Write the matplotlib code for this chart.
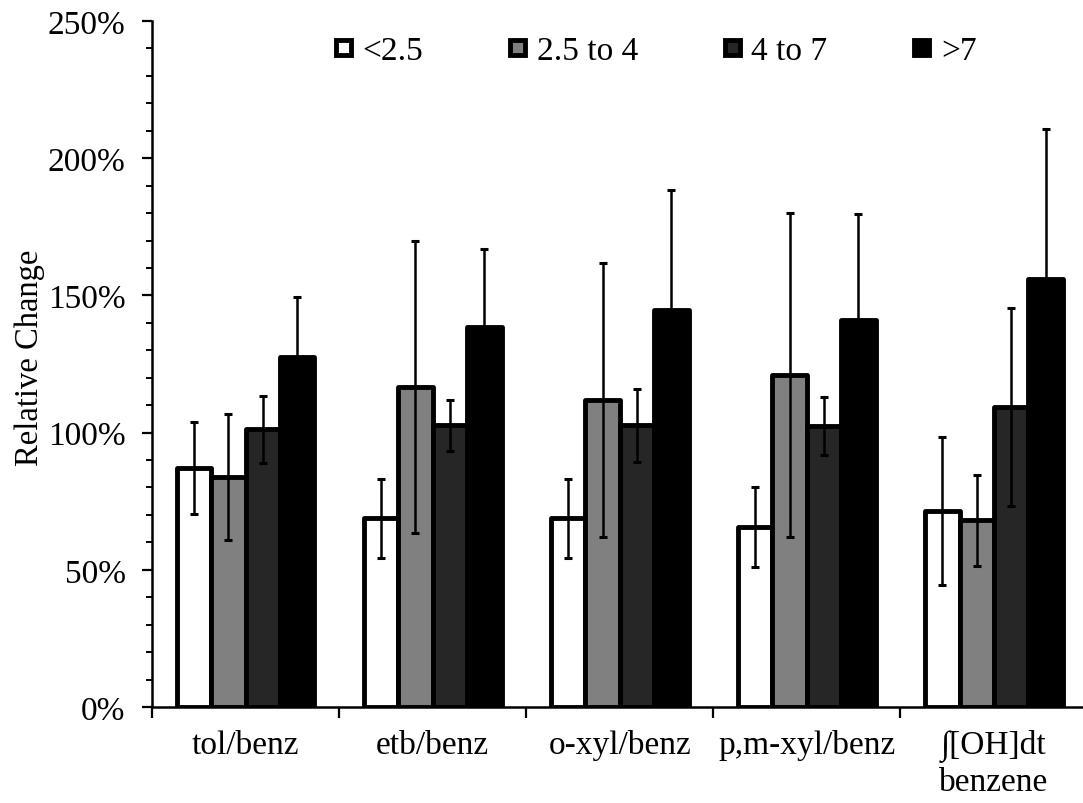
import numpy as np
import matplotlib
matplotlib.use("Agg")
import matplotlib.pyplot as plt
from matplotlib.ticker import MultipleLocator, FuncFormatter

plt.rcParams['font.family'] = ['Liberation Serif', 'DejaVu Serif']

# ---------------------------
# Data (relative change, %)
# ---------------------------
categories = ['tol/benz', 'etb/benz', 'o-xyl/benz', 'p,m-xyl/benz', '∫[OH]dt\nbenzene']
series_labels = ['<2.5', '2.5 to 4', '4 to 7', '>7']
series_colors = ['#ffffff', '#808080', '#262626', '#000000']

vals_lt25 = [87.2, 68.7, 68.7, 65.7, 71.5]
vals_25to4 = [83.9, 116.5, 111.8, 121.0, 68.1]
vals_4to7 = [101.2, 102.7, 102.6, 102.4, 109.4]
vals_gt7 = [127.4, 138.6, 144.6, 141.0, 155.9]

err_lt25 = [16.8, 14.5, 14.5, 14.5, 27.0]
err_25to4 = [22.9, 53.2, 50.0, 59.0, 16.6]
err_4to7 = [12.2, 9.3, 13.2, 10.6, 36.0]
err_gt7 = [21.9, 28.2, 43.8, 38.5, 54.7]

values = [vals_lt25, vals_25to4, vals_4to7, vals_gt7]
errors = [err_lt25, err_25to4, err_4to7, err_gt7]

# ---------------------------
# Plot
# ---------------------------
fig = plt.figure(figsize=(10.83, 8.04), dpi=100)
ax = fig.add_axes([152 / 1083, 1 - 708 / 804, 935.5 / 1083, 686 / 804])

x = np.arange(len(categories))
width = 0.184
bars = []
for i, (v, e, c, lab) in enumerate(zip(values, errors, series_colors, series_labels)):
    pos = x + (i - 1.5) * width
    b = ax.bar(pos, v, width, color=c, edgecolor='black', linewidth=3.5,
               label=lab, zorder=2)
    for p in b:
        p.set_joinstyle('round')
    bars.append(b)
    ax.errorbar(pos, v, yerr=e, fmt='none', ecolor='black', elinewidth=1.8,
                capsize=3.2, capthick=2.2, zorder=3)

ax.set_xlim(-0.5, len(categories) - 0.5)
ax.set_ylim(0, 250)
ax.yaxis.set_major_locator(MultipleLocator(50))
ax.yaxis.set_minor_locator(MultipleLocator(10))
ax.yaxis.set_major_formatter(FuncFormatter(lambda v, _: f'{v:.0f}%'))

ax.set_xticks(np.arange(len(categories) + 1) - 0.5)
ax.set_xticklabels([])
ax.set_xticks(x, minor=True)
ax.set_xticklabels(categories, minor=True, fontsize=24)
ax.tick_params(axis='x', which='major', direction='out', length=8, width=1.6)
ax.tick_params(axis='x', which='minor', length=0, pad=16)
ax.tick_params(axis='y', which='major', direction='out', length=7, width=1.6,
               labelsize=24, pad=12)
ax.tick_params(axis='y', which='minor', direction='out', length=4.5, width=1.4)

for s in ['top', 'right']:
    ax.spines[s].set_visible(False)
for s in ['left', 'bottom']:
    ax.spines[s].set_linewidth(1.8)

ax.set_ylabel('Relative Change', fontsize=23.5)
ax.yaxis.set_label_coords(-0.114, 0.51)

fig.legend(handles=bars, labels=series_labels, loc='center left',
           bbox_to_anchor=(336 / 1083, 1 - 52 / 804), ncol=4, frameon=False,
           fontsize=24, handlelength=0.45, handleheight=0.3, handletextpad=0.35,
           columnspacing=2.6, borderpad=0, borderaxespad=0)

fig.savefig('out.png', dpi=100)
